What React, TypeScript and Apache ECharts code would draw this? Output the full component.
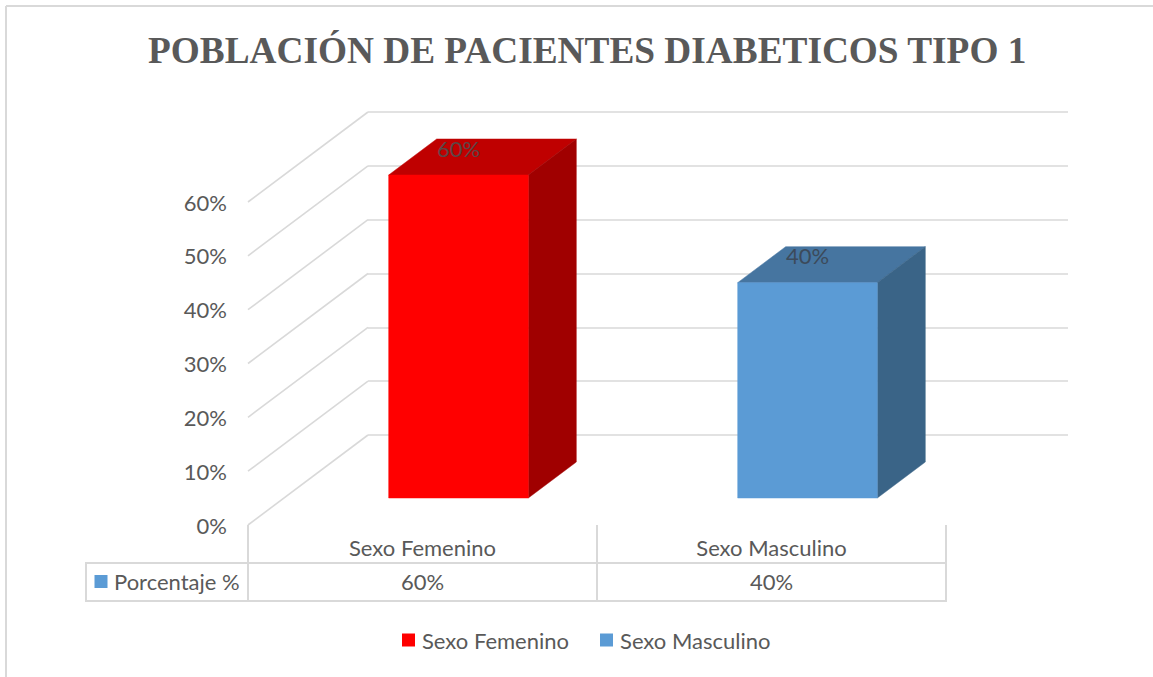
import React, { useEffect, useRef } from "react";
import * as echarts from "echarts";

const titleText = "POBLACIÓN DE PACIENTES DIABETICOS TIPO 1";
const categories = ["Sexo Femenino", "Sexo Masculino"];
const femaleValues = [60, null];
const maleValues = [null, 40];
const gridTicks = [0, 10, 20, 30, 40, 50, 60];
const tableKey = "Porcentaje %";

const FONT = "Lato";
const GREY = "#595959";
const LINE = "#d9d9d9";
const DX = 120;
const DY = 90;
const BAR_W = 0.4;
const NEAR = 0.3;
const FAR = 0.7;
const FS = 22;

function barRender(front: string, top: string, side: string, labelColor: string) {
  return (params: any, api: any) => {
    const idx = api.value(0);
    const val = api.value(1);
    const base = api.coord([idx, 0]);
    const head = api.coord([idx, val]);
    const w = api.size([1, 0])[0] * BAR_W;
    const x0 = base[0] - w / 2 + DX * NEAR;
    const x1 = x0 + w;
    const yb = base[1] - DY * NEAR;
    const yt = head[1] - DY * NEAR;
    const ox = DX * (FAR - NEAR);
    const oy = DY * (FAR - NEAR);
    const poly = (points: number[][], fill: string) => ({
      type: "polygon",
      shape: { points },
      style: { fill, stroke: fill, lineWidth: 0.5 },
    });
    return {
      type: "group",
      children: [
        poly([[x0, yt], [x1, yt], [x1 + ox, yt - oy], [x0 + ox, yt - oy]], top),
        poly([[x1, yb], [x1 + ox, yb - oy], [x1 + ox, yt - oy], [x1, yt]], side),
        poly([[x0, yb], [x1, yb], [x1, yt], [x0, yt]], front),
        {
          type: "text",
          style: {
            x: (x0 + x1) / 2,
            y: yt - 27,
            text: `${val}%`,
            fill: labelColor,
            font: `${FS}px ${FONT}`,
            align: "center",
            verticalAlign: "middle",
          },
        },
        {
          type: "text",
          style: {
            x: base[0],
            y: base[1] + 56,
            text: `${val}%`,
            fill: GREY,
            font: `${FS}px ${FONT}`,
            align: "center",
            verticalAlign: "middle",
          },
        },
      ],
    };
  };
}

function diagonalRender(params: any, api: any) {
  const v = api.value(0);
  const y = api.coord([0, v])[1];
  const x = params.coordSys.x;
  return {
    type: "line",
    shape: { x1: x, y1: y, x2: x + DX, y2: y - DY },
    style: { stroke: LINE, lineWidth: 1.6 },
  };
}

const toRows = (vals: (number | null)[]) =>
  vals.map((v, i) => (v === null ? null : [i, v])).filter(Boolean);

export default function App() {
  const ref = useRef<HTMLDivElement>(null);
  useEffect(() => {
    const chart = echarts.init(ref.current!, null, { renderer: "svg" });
    chart.setOption({
      animation: false,
      backgroundColor: "#ffffff",
      title: {
        text: titleText,
        left: 143,
        top: 27,
        textStyle: {
          fontFamily: "Liberation Serif",
          fontWeight: "bold",
          fontSize: 37.3,
          color: GREY,
        },
      },
      legend: {
        left: 397,
        top: 624,
        icon: "rect",
        itemWidth: 13,
        itemHeight: 13,
        itemGap: 31,
        data: categories,
        textStyle: { fontFamily: FONT, fontSize: FS, color: GREY, padding: [0, 0, 0, 2] },
      },
      grid: [
        { left: 248, top: 202, width: 698, height: 323 },
        { left: 368, top: 112, width: 700, height: 323 },
      ],
      xAxis: [
        {
          type: "category",
          gridIndex: 0,
          data: categories,
          axisLine: { show: false },
          axisTick: { show: true, length: 76, lineStyle: { color: LINE, width: 2 } },
          axisLabel: { margin: 11, fontFamily: FONT, fontSize: FS, color: GREY },
        },
        { type: "value", gridIndex: 1, min: 0, max: 1, show: false },
      ],
      yAxis: [
        {
          type: "value",
          gridIndex: 0,
          min: 0,
          max: 60,
          interval: 10,
          axisLine: { show: false },
          axisTick: { show: false },
          splitLine: { show: false },
          axisLabel: {
            margin: 21,
            formatter: "{value}%",
            fontFamily: FONT,
            fontSize: FS,
            color: GREY,
          },
        },
        {
          type: "value",
          gridIndex: 1,
          min: 0,
          max: 60,
          interval: 10,
          axisLine: { show: false },
          axisTick: { show: false },
          axisLabel: { show: false },
          splitLine: { show: true, lineStyle: { color: LINE, width: 1.6 } },
        },
      ],
      series: [
        {
          type: "custom",
          name: "grid-depth",
          xAxisIndex: 0,
          yAxisIndex: 0,
          clip: false,
          silent: true,
          encode: { y: 0 },
          data: gridTicks.map((v) => [v]),
          renderItem: diagonalRender,
        },
        {
          type: "custom",
          name: categories[0],
          xAxisIndex: 0,
          yAxisIndex: 0,
          clip: false,
          encode: { x: 0, y: 1 },
          itemStyle: { color: "#FF0000" },
          data: toRows(femaleValues),
          renderItem: barRender("#FF0000", "#BF0000", "#A00000", "#5c4646"),
        },
        {
          type: "custom",
          name: categories[1],
          xAxisIndex: 0,
          yAxisIndex: 0,
          clip: false,
          encode: { x: 0, y: 1 },
          itemStyle: { color: "#5B9BD5" },
          data: toRows(maleValues),
          renderItem: barRender("#5B9BD5", "#4675A0", "#3A6487", "#3c4a5a"),
        },
      ],
      graphic: [
        { type: "line", shape: { x1: 6, y1: 6, x2: 1153, y2: 6 }, style: { stroke: LINE, lineWidth: 2 } },
        { type: "line", shape: { x1: 6, y1: 6, x2: 6, y2: 677 }, style: { stroke: LINE, lineWidth: 2 } },
        {
          type: "polyline",
          shape: { points: [[248, 563], [86, 563], [86, 601], [946, 601], [946, 563], [248, 563]] },
          style: { stroke: LINE, lineWidth: 2, fill: "none" },
        },
        { type: "rect", shape: { x: 94.5, y: 575, width: 13, height: 13 }, style: { fill: "#5B9BD5" } },
        {
          type: "text",
          x: 114,
          y: 581,
          style: {
            text: tableKey,
            fill: GREY,
            font: `${FS}px ${FONT}`,
            verticalAlign: "middle",
          },
        },
      ],
    });
    return () => chart.dispose();
  }, []);
  return <div ref={ref} style={{ position: "absolute", left: 0, top: 0, width: 1153, height: 677 }} />;
}
